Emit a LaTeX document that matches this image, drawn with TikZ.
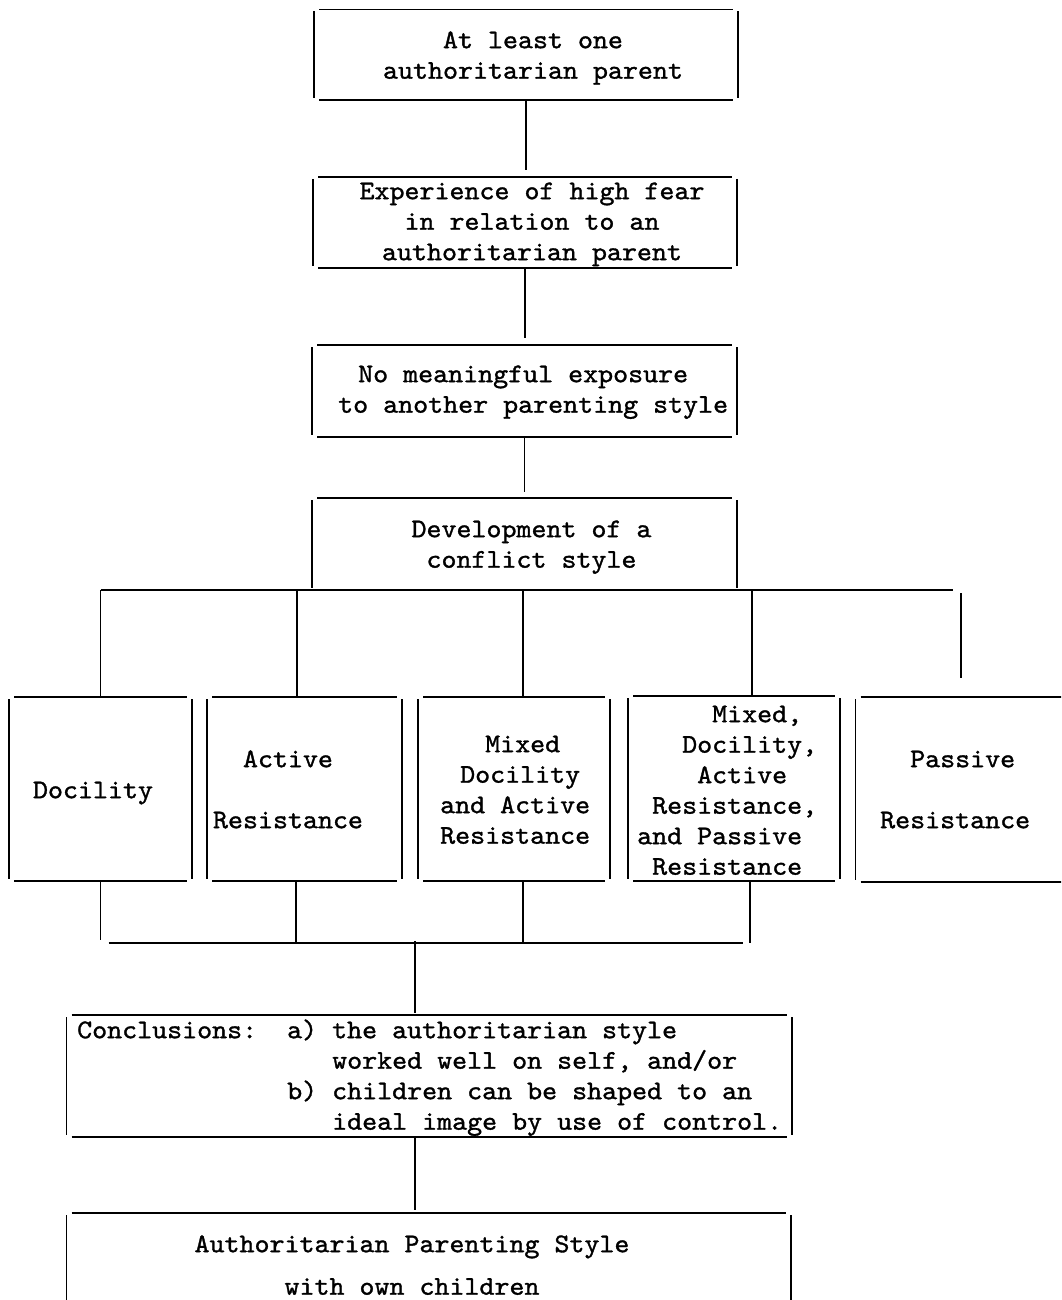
\documentclass[tikz,border=0pt]{standalone}
\usepackage{fontspec}
\newfontfamily\twfont{lmmono10-regular.otf}[FakeBold=1.2, FakeStretch=1.058]
\usetikzlibrary{calc}
\newcommand\tws{\rule{0pt}{22pt}}
\newcommand\twframe[1]{%
  \draw[frame] ([xshift=5pt]#1.north west) -- ([xshift=-5pt]#1.north east);
  \draw[frame] ([xshift=5pt]#1.south west) -- ([xshift=-5pt]#1.south east);
  \draw[frame] ([yshift=-2pt]#1.north west) -- ([yshift=2pt]#1.south west);
  \draw[frame] ([yshift=-2pt]#1.north east) -- ([yshift=2pt]#1.south east);}
\tikzset{
  frame/.style={line width=1.6pt},
  conn/.style={line width=1.5pt},
  box/.style={draw=none, inner sep=0pt, outer sep=0pt},
  txt/.style={inner sep=0pt, font=\twfont\fontsize{27}{30.5}\selectfont\frenchspacing, align=center, anchor=north},
  txtl/.style={txt, align=left, anchor=north west},
}
\begin{document}
\begin{tikzpicture}[x=1pt,y=-1pt]
\useasboundingbox (0,0) rectangle (1061,1300);
\fill[white] (0,0) rectangle (1061,1300);
\clip (0,0) rectangle (1061,1300);

% upper chain of boxes
\node[box, minimum width=424pt, minimum height=90.5pt] (b1) at (526,54.75) {};
\node[box, minimum width=424pt, minimum height=91pt] (b2) at (525,222.5) {};
\node[box, minimum width=425pt, minimum height=92pt] (b3) at (524.5,391) {};
\node[box, minimum width=425pt, minimum height=92pt] (b4) at (524.5,544) {};
\twframe{b1}\twframe{b2}\twframe{b3}\twframe{b4}

\node[txt] (t1) at (533,26) {\tws At least one\\authoritarian parent};
\node[txt] (t2) at (532,177) {\tws Experience of high fear\\in relation to an\\authoritarian parent};
\node[txtl] (t3) at (338,360) {\tws\hspace*{20pt}No meaningful exposure\\to another parenting style};
\node[txt] (t4) at (531.5,515) {\tws Development of a\\conflict style};

\draw[conn, shorten >=7pt] (b1.south) -- (b1.south |- b2.north);
\draw[conn, shorten >=7pt] (b2.south) -- (b2.south |- b3.north);
\draw[conn, shorten >=6pt] (b3.south) -- (b3.south |- b4.north);

% row of conflict styles
\node[box, minimum width=183pt, minimum height=184pt] (d1) at (100.5,789) {};
\node[box, minimum width=195pt, minimum height=184pt] (d2) at (304.5,789) {};
\node[box, minimum width=192pt, minimum height=184pt] (d3) at (514,789) {};
\node[box, minimum width=212pt, minimum height=185pt] (d4) at (734,788.5) {};
\node[box, minimum width=225pt, minimum height=185pt] (d5) at (968,789.5) {};
\twframe{d1}\twframe{d2}\twframe{d3}\twframe{d4}\twframe{d5}

\node[txt] (td1) at (93,776) {\tws Docility};
\node[txt] (td2) at (288,745) {\tws Active\\[30.5pt]Resistance};
\node[txtl] (td3) at (440,730) {\tws\hspace*{45pt}Mixed\\\hspace*{20pt}Docility\\and Active\\Resistance};
\node[txtl] (td4) at (637,700) {\tws\hspace*{75pt}Mixed,\\\hspace*{45pt}Docility,\\\hspace*{60pt}Active\\\hspace*{15pt}Resistance,\\and Passive\\\hspace*{15pt}Resistance};
\node[txtl] (td5) at (880,745) {\tws\hspace*{30pt}Passive\\[30.5pt]Resistance};

% upper bus
\coordinate (busL) at (100.5,590);
\coordinate (busR) at (953,590);
\coordinate (j2) at (297,590);
\coordinate (j3) at (523,590);
\coordinate (j4) at (752,590);
\coordinate (j5) at (961,593);
\draw[conn] (busL) -- (busR);
\draw[conn] (busL) -- (busL |- d1.north);
\draw[conn] (j2) -- (j2 |- d2.north);
\draw[conn] (j3) -- (j3 |- d3.north);
\draw[conn] (j4) -- (j4 |- d4.north);
\draw[conn] (j5) -- ($(j5 |- d5.north)+(0,-19)$);

% lower bus
\coordinate (kL) at (108.5,943);
\coordinate (kR) at (743,943);
\coordinate (k1) at (100.5,940);
\coordinate (k2) at (296,943);
\coordinate (k3) at (523,943);
\coordinate (k4) at (750,943);
\draw[conn] (kL) -- (kR);
\draw[conn] (k1 |- d1.south) -- (k1);
\draw[conn] (k2 |- d2.south) -- (k2);
\draw[conn] (k3 |- d3.south) -- (k3);
\draw[conn] (k4 |- d4.south) -- (k4);

% conclusions
\node[box, minimum width=725.5pt, minimum height=122pt] (c) at (429.25,1076) {};
\twframe{c}
\node[txtl] (tc) at (77,1016) {\tws Conclusions:\hspace*{30pt}a) the authoritarian style\\
\hspace*{255pt}worked well on self, and/or\\
\hspace*{210pt}b) children can be shaped to an\\
\hspace*{255pt}ideal image by use of control.};

\coordinate (m1) at (415,941);
\draw[conn, shorten >=2pt] (m1) -- (m1 |- c.north);

% final box
\node[box, minimum width=724.5pt, minimum height=117pt] (e) at (428.75,1271.5) {};
\twframe{e}
\node[txt] (te) at (412,1230) {\tws Authoritarian Parenting Style\\[12pt]with own children};

\coordinate (m2) at (415,1137);
\draw[conn, shorten >=3pt] (m2 |- c.south) -- (m2 |- e.north);
\end{tikzpicture}
\end{document}
